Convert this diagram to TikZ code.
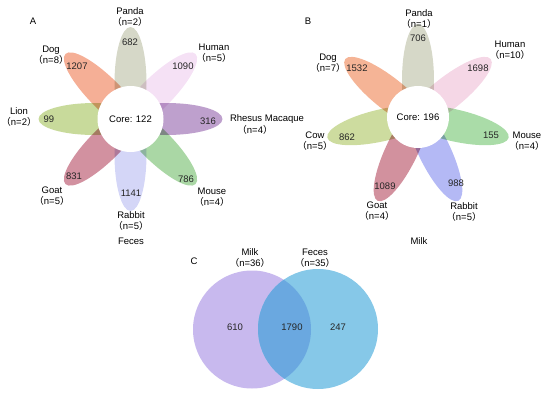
\documentclass[tikz,border=0pt]{standalone}
\usepackage{fontspec}
\setmainfont{Liberation Sans}
\newfontfamily\cjk[RawFeature=+halt]{Noto Sans CJK SC}
\newcommand{\samp}[1]{{\cjk （}n=#1{\cjk ）}}
% petal colours, flower A
\definecolor{pandaA}{HTML}{D6D8C8}
\definecolor{humanA}{HTML}{F5E1F5}
\definecolor{rhesusA}{HTML}{BEA0CD}
\definecolor{mouseA}{HTML}{AAD7A5}
\definecolor{rabbitA}{HTML}{D4D6F7}
\definecolor{goatA}{HTML}{D291A0}
\definecolor{lionA}{HTML}{C8DA9B}
\definecolor{dogA}{HTML}{F5AF96}
% petal colours, flower B
\definecolor{pandaB}{HTML}{D6D8C8}
\definecolor{humanB}{HTML}{F5D7E6}
\definecolor{mouseB}{HTML}{AADCA8}
\definecolor{rabbitB}{HTML}{B4B9F5}
\definecolor{goatB}{HTML}{D2919E}
\definecolor{cowB}{HTML}{CDDC9F}
\definecolor{dogB}{HTML}{F5B496}
% venn colours
\definecolor{milkC}{HTML}{C8B9EE}
\definecolor{fecesC}{HTML}{86C8E8}
\definecolor{bothC}{HTML}{6AA8E0}
\begin{document}
\begin{tikzpicture}[x=1pt, y=-1pt,
    every node/.style={font=\fontsize{9.5}{10.5}\selectfont, inner sep=0pt, align=center},
    petal/.style={blend mode=multiply},
    core/.style={circle, fill=white, minimum size=#1},
    num/.style={text=black!85}]
% 0. 画布
\useasboundingbox (0,0) rectangle (550,397);

% 1. 花瓣图 A (Feces)
\foreach \ang/\col in {90/pandaA, 45/humanA, 0/rhesusA, -45/mouseA, -90/rabbitA, -135/goatA, 180/lionA, 135/dogA}
  \fill[petal, fill=\col, shift={(130.5,119)}, rotate=\ang] (36,0) ellipse [x radius=56, y radius=16];
\node[core=66pt] (coreA) at (130.5,119) {Core: 122};
\node (tagA) at (33,21) {A};
\node (pandaA) at (130,17) {Panda\\\samp{2}};
\node (humanA) at (214,53) {Human\\\samp{5}};
\node (rhesusA) at (267,119) {Rhesus Macaque};
\node (rhesusnA) at (255,130) {\samp{4}};
\node (mouseA) at (212,197) {Mouse\\\samp{4}};
\node (rabbitA) at (131,221) {Rabbit\\\samp{5}};
\node (goatA) at (52,196) {Goat\\\samp{5}};
\node (lionA) at (19,117) {Lion\\\samp{2}};
\node (dogA) at (51,55) {Dog\\\samp{8}};
\node[num] (nPandaA) at (130,42) {682};
\node[num] (nHumanA) at (183,66) {1090};
\node[num] (nRhesusA) at (208,121) {316};
\node[num] (nMouseA) at (186,179) {786};
\node[num] (nRabbitA) at (131,193) {1141};
\node[num] (nGoatA) at (74,176) {831};
\node[num] (nLionA) at (49,119) {99};
\node[num] (nDogA) at (77,66) {1207};
\node (feces) at (131,241) {Feces};

% 2. 花瓣图 B (Milk)
\foreach \ang/\col in {90/pandaB, 38.57/humanB, -12.86/mouseB, -64.29/rabbitB, -115.71/goatB, -167.14/cowB, 141.43/dogB}
  \fill[petal, fill=\col, shift={(418,117)}, rotate=\ang] (37,0) ellipse [x radius=56, y radius=16];
\node[core=62pt] (coreB) at (418,117) {Core: 196};
\node (tagB) at (308,21) {B};
\node (pandaB) at (419,19) {Panda\\\samp{1}};
\node (humanB) at (510,50) {Human\\\samp{10}};
\node (mouseB) at (527,141) {Mouse\\\samp{4}};
\node (rabbitB) at (464,212) {Rabbit\\\samp{5}};
\node (goatB) at (377,211) {Goat\\\samp{4}};
\node (cowB) at (315,141) {Cow\\\samp{5}};
\node (dogB) at (328,63) {Dog\\\samp{7}};
\node[num] (nPandaB) at (418,38) {706};
\node[num] (nHumanB) at (478,68) {1698};
\node[num] (nMouseB) at (491,135) {155};
\node[num] (nRabbitB) at (456,183) {988};
\node[num] (nGoatB) at (385,186) {1089};
\node[num] (nCowB) at (347,137) {862};
\node[num] (nDogB) at (357,68) {1532};
\node (milk) at (419,241) {Milk};

% 3. 韦恩图 C
\fill[milkC] (252,329.5) circle [radius=59];
\fill[fecesC] (318,329) circle [radius=60];
\begin{scope}
  \clip (252,329.5) circle [radius=59];
  \fill[bothC] (318,329) circle [radius=60];
\end{scope}
\node (tagC) at (194,261) {C};
\node (milkN) at (250,258) {Milk\\\samp{36}};
\node (fecesN) at (315,258) {Feces\\\samp{35}};
\node[num] (onlyMilk) at (235,327) {610};
\node[num] (shared) at (292,327) {1790};
\node[num] (onlyFeces) at (338,327) {247};
\end{tikzpicture}
\end{document}
